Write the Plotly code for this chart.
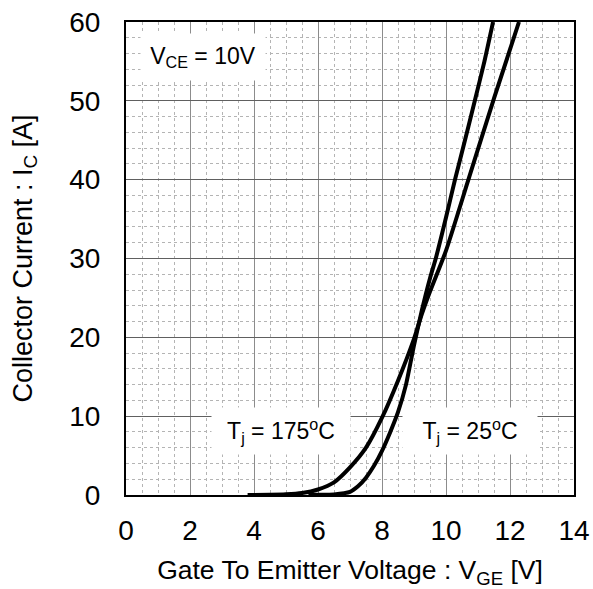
import plotly.graph_objects as go

# Data
vge_25 = [5.7, 6.0, 6.5, 7.0, 7.25, 7.5, 7.75, 8.0, 8.25, 8.5, 8.75, 9.0, 9.25, 9.5, 9.68, 10.0, 10.28, 10.5, 10.9, 11.2, 11.47]
ic_25 = [0.0, 0.02, 0.08, 0.4, 1.1, 2.2, 3.7, 5.6, 7.9, 10.5, 14.0, 19.0, 23.5, 27.5, 30.0, 35.2, 40.0, 43.5, 50.0, 55.0, 60.0]

vge_175 = [3.8, 4.5, 5.0, 5.5, 6.0, 6.5, 7.0, 7.5, 8.0, 8.5, 9.0, 9.25, 9.5, 10.0, 10.7, 11.5, 12.28]
ic_175 = [0.0, 0.02, 0.08, 0.25, 0.7, 1.6, 3.5, 6.0, 9.8, 14.5, 19.8, 23.0, 25.8, 31.0, 40.0, 50.3, 60.0]

x_ticks = [0, 2, 4, 6, 8, 10, 12, 14]
y_ticks = [0, 10, 20, 30, 40, 50, 60]

FONT = "Liberation Sans, Arial, sans-serif"

fig = go.Figure()
for xs, ys in [(vge_175, ic_175), (vge_25, ic_25)]:
    fig.add_trace(go.Scatter(x=xs, y=ys, mode="lines",
                             line=dict(color="black", width=4, shape="spline", smoothing=0.6),
                             showlegend=False, hoverinfo="skip"))

fig.update_layout(
    width=593, height=589,
    margin=dict(l=126, r=19, t=22, b=94),
    paper_bgcolor="white", plot_bgcolor="white",
    font=dict(family=FONT, color="black"),
)

fig.update_xaxes(
    range=[0, 14], tickvals=x_ticks, ticktext=[str(v) for v in x_ticks],
    showgrid=True, gridcolor="#8c8c8c", gridwidth=1,
    minor=dict(dtick=0.5, showgrid=True, gridcolor="#b4b4b4", griddash="dot", gridwidth=1),
    showline=True, linecolor="black", linewidth=2, mirror=True,
    zeroline=False, ticks="", tickfont=dict(size=28, family=FONT),
    ticklabelstandoff=9, automargin=False, ticklabeloverflow="allow",
    title=dict(text="Gate To Emitter Voltage : V<sub>GE</sub> [V]", font=dict(size=26.5, family=FONT), standoff=28),
)
fig.update_yaxes(
    range=[0, 60], tickvals=y_ticks, ticktext=[str(v) for v in y_ticks],
    showgrid=True, gridcolor="#606060", gridwidth=1,
    minor=dict(dtick=2, showgrid=True, gridcolor="#b4b4b4", griddash="dot", gridwidth=1),
    showline=True, linecolor="black", linewidth=2, mirror=True,
    zeroline=False, ticks="", tickfont=dict(size=28, family=FONT),
    ticklabelstandoff=18, automargin=False, ticklabeloverflow="allow",
    title=dict(text="Collector Current : I<sub>C</sub> [A]", font=dict(size=27, family=FONT), standoff=29),
)

ann_font = dict(size=23, family=FONT, color="black")
fig.add_annotation(x=2.4, y=55.5, text="V<sub>CE</sub> = 10V", showarrow=False,
                   bgcolor="white", width=124, height=46, borderpad=0, font=ann_font)
fig.add_annotation(x=4.85, y=8.1, text="T<sub>j</sub> = 175<sup>o</sup>C", showarrow=False,
                   bgcolor="white", width=138, height=46, borderpad=0, font=ann_font)
fig.add_annotation(x=10.75, y=8.1, text="T<sub>j</sub> = 25<sup>o</sup>C", showarrow=False,
                   bgcolor="white", width=134, height=46, borderpad=0, font=ann_font)

fig.write_html("out.html", config={"displayModeBar": False},
               post_script="document.body.style.margin='0px';")
